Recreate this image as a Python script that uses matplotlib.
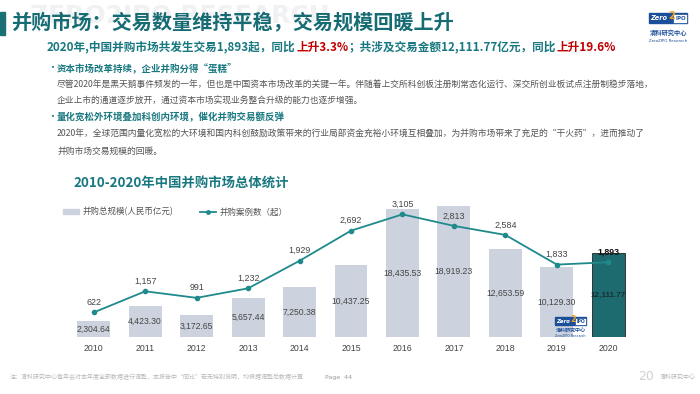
import matplotlib
matplotlib.use("Agg")
import matplotlib.pyplot as plt
from matplotlib.patches import Rectangle
from matplotlib.lines import Line2D

plt.rcParams['font.family'] = ['Noto Sans CJK SC', 'DejaVu Sans']

# data
years = ['2010', '2011', '2012', '2013', '2014', '2015', '2016', '2017', '2018', '2019', '2020']
deal_value = [2304.64, 4423.30, 3172.65, 5657.44, 7250.38, 10437.25, 18435.53, 18919.23, 12653.59, 10129.30, 12111.77]
deal_count = [622, 1157, 991, 1232, 1929, 2692, 3105, 2813, 2584, 1833, 1893]

bar_color = '#cdd3de'
hi_color = '#1d6a6f'
line_color = '#1f8a8c'
teal = '#187880'
gray_text = '#555555'
num_font = 'Liberation Sans'

W, H = 700, 394
fig = plt.figure(figsize=(7, 3.94), dpi=100, facecolor='white')


def px(x, y):
    # pixel position -> figure fraction
    return x / W, 1 - y / H


# faint watermark behind the title
fig.text(*px(30, 16), 'ZERO2IPO RESEARCH', fontsize=18, fontweight='bold', color='#f0f1f3',
         va='center', ha='left', family='DejaVu Sans', zorder=0)

# title block
fig.patches.append(Rectangle(px(0, 35), 5 / W, 23 / H, transform=fig.transFigure,
                             color='#1a6f75', zorder=2))
fig.text(*px(11, 23), '并购市场：交易数量维持平稳，交易规模回暖上升', fontsize=14.5,
         fontweight='bold', color='#176c74', va='center', ha='left')

# subtitle with red highlights
sub_parts = [('2020年,中国并购市场共发生交易1,893起，同比', teal),
             ('上升3.3%', '#c00000'),
             ('；共涉及交易金额12,111.77亿元，同比', teal),
             ('上升19.6%', '#c00000')]
x0 = 47
renderer = fig.canvas.get_renderer()
for s, c in sub_parts:
    t = fig.text(*px(x0, 47), s, fontsize=8.4, fontweight='bold', color=c, va='center', ha='left')
    bb = t.get_window_extent(renderer=renderer)
    x0 += bb.width + 0.5

# bullets
fig.text(*px(47, 68), '·', fontsize=7, color=teal, va='center', ha='left')
fig.text(*px(57, 68), '资本市场改革持续，企业并购分得“蛋糕”', fontsize=6.8, fontweight='bold',
         color=teal, va='center', ha='left')
fig.text(*px(57, 85), '尽管2020年是黑天鹅事件频发的一年，但也是中国资本市场改革的关键一年。伴随着上交所科创板注册制常态化运行、深交所创业板试点注册制稳步落地，',
         fontsize=6.3, color=gray_text, va='center', ha='left')
fig.text(*px(57, 101), '企业上市的通道逐步放开，通过资本市场实现业务整合升级的能力也逐步增强。',
         fontsize=6.3, color=gray_text, va='center', ha='left')
fig.text(*px(47, 117), '·', fontsize=7, color=teal, va='center', ha='left')
fig.text(*px(57, 117), '量化宽松外环境叠加科创内环境，催化并购交易额反弹', fontsize=6.8, fontweight='bold',
         color=teal, va='center', ha='left')
fig.text(*px(57, 134), '2020年，全球范围内量化宽松的大环境和国内科创鼓励政策带来的行业局部资金充裕小环境互相叠加，为并购市场带来了充足的“干火药”，进而推动了',
         fontsize=6.3, color=gray_text, va='center', ha='left')
fig.text(*px(57, 151), '并购市场交易规模的回暖。', fontsize=6.3, color=gray_text, va='center', ha='left')

# chart title
fig.text(*px(73, 184), '2010-2020年中国并购市场总体统计', fontsize=9.6, fontweight='bold',
         color='#187880', va='center', ha='left')


def logo(x, y, s, t1, t2):
    # small Zero2IPO badge
    fig.patches.append(Rectangle(px(x, y + 13 * s), 48 * s / W, 13 * s / H, transform=fig.transFigure,
                                 facecolor='#1c4f9a', edgecolor='#1c4f9a', zorder=3))
    fig.patches.append(Rectangle(px(x + 30 * s, y + 12 * s), 17 * s / W, 11 * s / H, transform=fig.transFigure,
                                 facecolor='white', edgecolor='#1c4f9a', lw=0.5, zorder=4))
    fig.text(*px(x + 2 * s, y + 6.5 * s), 'Zero', fontsize=6 * s, fontweight='bold', style='italic',
             color='white', va='center', ha='left', family='DejaVu Sans', zorder=5)
    fig.text(*px(x + 24 * s, y + 4 * s), '2', fontsize=9 * s, fontweight='bold',
             color='#f0a020', va='center', ha='left', family='DejaVu Sans', zorder=6)
    fig.text(*px(x + 33 * s, y + 7 * s), 'IPO', fontsize=5 * s, fontweight='bold',
             color='#1c4f9a', va='center', ha='left', family='DejaVu Sans', zorder=6)
    fig.text(*px(x + 24 * s, y + t1), '清科研究中心', fontsize=5.6 * s, fontweight='bold',
             color='#1c4f9a', va='center', ha='center', zorder=5)
    fig.text(*px(x + 24 * s, y + t2), 'ZeroZIPO Research', fontsize=3.6 * s,
             color='#1c4f9a', va='center', ha='center', family='DejaVu Sans', zorder=5)


logo(649, 13, 0.8, 20, 28)

# chart
ax = fig.add_axes([68 / W, 1 - 337 / H, (634 - 68) / W, (337 - 195) / H])
ax.set_facecolor('none')
xs = list(range(len(years)))
colors = [bar_color] * (len(years) - 1) + [hi_color]
edges = ['none'] * (len(years) - 1) + ['#222222']
ax.bar(xs, deal_value, width=0.64, color=colors, edgecolor=edges, linewidth=0.6, zorder=2)
for i, v in enumerate(deal_value):
    last = i == len(years) - 1
    ax.text(i, v / 2, f'{v:,.2f}', ha='center', va='center', fontsize=5.9 if last else 6.2,
            color='#163236' if last else '#444444', fontweight='bold' if last else 'normal',
            family=num_font, zorder=5)
ax.set_xlim(-0.5, len(years) - 0.5)
ax.set_ylim(0, 20520)
ax.set_xticks(xs)
ax.set_xticklabels(years, fontsize=6.3, color='#444444', family=num_font)
ax.tick_params(axis='x', length=0, pad=5)
ax.set_yticks([])
for sp in ax.spines.values():
    sp.set_visible(False)

ax2 = ax.twinx()
ax2.plot(xs, deal_count, color=line_color, lw=1.3, marker='o', markersize=3, zorder=4)
for i, v in enumerate(deal_count):
    last = i == len(years) - 1
    ax2.annotate(f'{v:,}', (i, v), xytext=(0, 4), textcoords='offset points', ha='center',
                 va='bottom', fontsize=6.4, color='#111111' if last else '#444444',
                 fontweight='bold' if last else 'normal', family=num_font)
ax2.set_ylim(0, 3595)
ax2.set_yticks([])
for sp in ax2.spines.values():
    sp.set_visible(False)

# legend
handles = [Rectangle((0, 0), 1, 1, color=bar_color),
           Line2D([0], [0], color=line_color, lw=1.3, marker='o', markersize=2.5)]
fig.legend(handles, ['并购总规模(人民币亿元)', '并购案例数（起）'], loc='center left',
           bbox_to_anchor=px(55, 212), ncol=2, frameon=False, fontsize=6.1,
           handlelength=1.9, handleheight=0.6, columnspacing=3.2, handletextpad=0.4,
           labelcolor='#555555')

# small logo inside 2019 bar
logo(555, 317, 0.65, 13.5, 19)

# footer
fig.text(*px(10, 377), '注：清科研究中心每年会对本年度全部数据进行调整，本报告中“同比”若无特别说明，均根据调整后数据计算',
         fontsize=4.3, color='#b8b8b8', va='center', ha='left')
fig.text(*px(325, 377), 'Page  44', fontsize=4.5, color='#999999', va='center', ha='left',
         family='DejaVu Sans')
fig.text(*px(638, 377), '20', fontsize=9, color='#d0d0d0', va='center', ha='left',
         family='DejaVu Sans')
fig.text(*px(660, 377), '清科研究中心', fontsize=4.3, color='#b8b8b8', va='center', ha='left')

fig.savefig('out.png', dpi=100, facecolor=fig.get_facecolor())
